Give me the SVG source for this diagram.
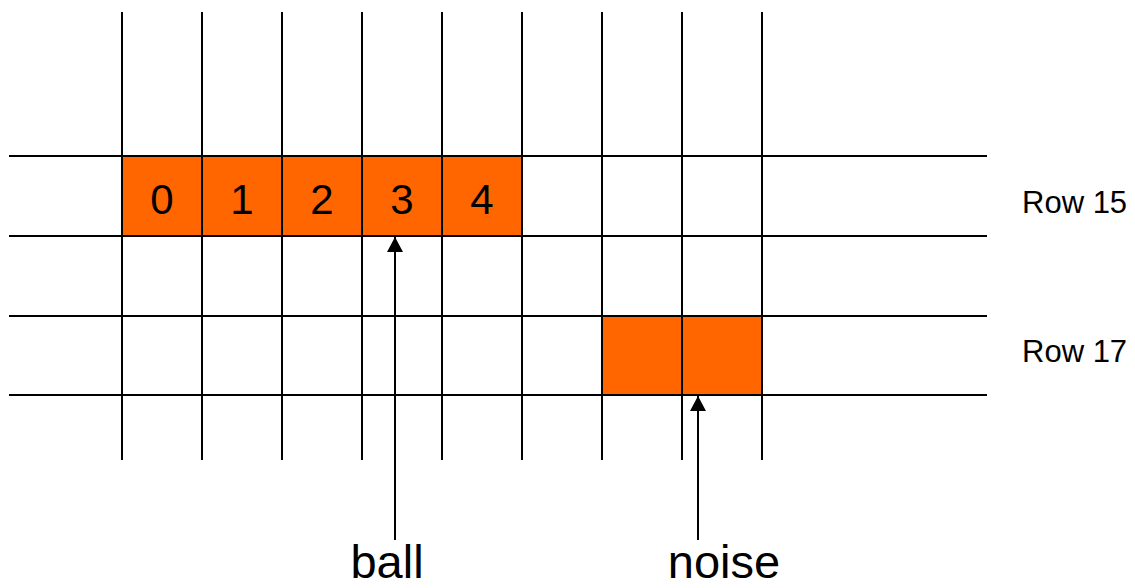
<svg xmlns="http://www.w3.org/2000/svg" width="1135" height="588" viewBox="0 0 1135 588">
<defs>
<style>
.cell{fill:#FF6600;stroke:none}
.grid{stroke:#000;stroke-width:2;fill:none}
.conn{stroke:#000;stroke-width:2;fill:none}
.num{font-family:"Liberation Sans",Arial,sans-serif;font-size:42px;fill:#000;text-anchor:middle}
.lbl{font-family:"Liberation Sans",Arial,sans-serif;font-size:47px;fill:#000;text-anchor:middle}
.row{font-family:"Liberation Sans",Arial,sans-serif;font-size:31px;fill:#000}
</style>
<marker id="ah" markerWidth="16" markerHeight="16" viewBox="0 0 16 16" refX="15" refY="8" orient="auto" markerUnits="userSpaceOnUse">
<path d="M0,0 L15,8 L0,16 Z" fill="#000"/>
</marker>
</defs>
<rect width="1135" height="588" fill="#fff"/>
<g id="cells">
<rect class="cell" x="122" y="156" width="400" height="80"/>
<rect class="cell" x="602" y="316" width="160" height="79"/>
</g>
<g id="grid">
<path class="grid" d="M122,12V460M202,12V460M282,12V460M362,12V460M442,12V460M522,12V460M602,12V460M682,12V460M762,12V460"/>
<path class="grid" d="M9,156H987M9,236H987M9,316H987M9,395H987"/>
</g>
<g id="numbers">
<text class="num" x="162" y="214">0</text>
<text class="num" x="242" y="214">1</text>
<text class="num" x="322" y="214">2</text>
<text class="num" x="402" y="214">3</text>
<text class="num" x="482" y="214">4</text>
</g>
<g id="row15"><text class="row" x="1022" y="213">Row 15</text></g>
<g id="row17"><text class="row" x="1022" y="362">Row 17</text></g>
<g id="ball"><text class="lbl" x="387" y="578">ball</text></g>
<g id="noise"><text class="lbl" x="724" y="578">noise</text></g>
<g id="connectors">
<line class="conn" x1="395" y1="540" x2="395" y2="237" marker-end="url(#ah)"/>
<line class="conn" x1="698" y1="540" x2="698" y2="396" marker-end="url(#ah)"/>
</g>
</svg>
